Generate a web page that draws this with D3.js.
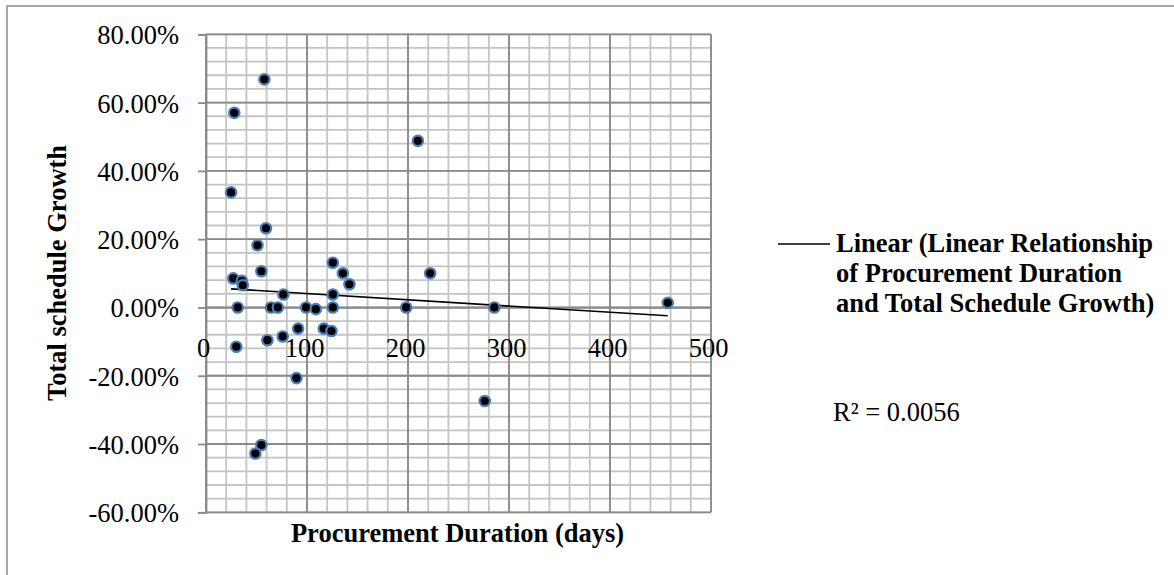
<!DOCTYPE html>
<html>
<head>
<meta charset="utf-8">
<script src="https://cdn.jsdelivr.net/npm/d3@7"></script>
<style>
  body { margin: 0; background: #fff; }
  svg text { font-family: "Liberation Serif", "Times New Roman", serif; }
</style>
</head>
<body>
<svg width="1174" height="575"></svg>
<script>
// procurement duration (days) and total schedule growth (%)
const durations = [57.8, 28, 24.8, 59.4, 51, 54.8, 27, 35.4, 36.4, 76.6, 125.6, 135.5, 142, 125.6,
    209.8, 222, 31.4, 64.4, 71.1, 99.1, 108.7, 125.6, 198.2, 285.5,
    91.2, 116.6, 124.2, 76, 60.8, 30, 89.6, 276, 54.8, 48.9, 457.2];
const growth = [66.8, 57.0, 33.7, 23.2, 18.2, 10.6, 8.5, 7.8, 6.5, 3.8, 13.1, 10.0, 6.8, 3.8,
    48.8, 10.0, 0, 0, 0, 0, -0.5, 0, 0, 0,
    -6.2, -6.2, -6.9, -8.5, -9.6, -11.5, -20.7, -27.4, -40.3, -42.8, 1.35];
const xTicks = [0, 100, 200, 300, 400, 500];
const yTicks = [-60, -40, -20, 0, 20, 40, 60, 80];
// linear trend as shown in the chart
const trendIntercept = 5.89, trendSlope = -0.01824;
const legendLines = ["Linear (Linear Relationship", "of Procurement Duration", "and Total Schedule Growth)"];
const rSquared = "R² = 0.0056";

const data = durations.map((d, i) => ({ x: d, y: growth[i] }));

const svg = d3.select("svg");
const fs = "26.5px";
const serif = '"Liberation Serif", "Times New Roman", serif';

// outer chart border
svg.append("rect")
    .attr("x", 7).attr("y", 6).attr("width", 1200).attr("height", 600)
    .attr("fill", "none").attr("stroke", "#8c8c8c").attr("stroke-width", 1.5);

const x = d3.scaleLinear().domain([0, 500]).range([206, 711]),
    y = d3.scaleLinear().domain([-60, 80]).range([512.3, 34.3]);

const g = svg.append("g");

// minor grid
g.selectAll(".vminor").data(d3.range(0, 501, 20)).join("line")
    .attr("x1", d => x(d)).attr("x2", d => x(d)).attr("y1", y(80)).attr("y2", y(-60))
    .attr("stroke", "#c4c4c4").attr("stroke-width", 1.8);
g.selectAll(".hminor").data(d3.range(-60, 81, 4)).join("line")
    .attr("x1", x(0)).attr("x2", x(500)).attr("y1", d => y(d)).attr("y2", d => y(d))
    .attr("stroke", "#c4c4c4").attr("stroke-width", 1.8);
// major grid
g.selectAll(".vmajor").data(xTicks).join("line")
    .attr("x1", d => x(d)).attr("x2", d => x(d)).attr("y1", y(80)).attr("y2", y(-60))
    .attr("stroke", "#8a8a8a").attr("stroke-width", 1.8);
g.selectAll(".hmajor").data(yTicks).join("line")
    .attr("x1", x(0)).attr("x2", x(500)).attr("y1", d => y(d)).attr("y2", d => y(d))
    .attr("stroke", "#8a8a8a").attr("stroke-width", 1.8);

// y axis
const yAxis = g.append("g")
    .attr("transform", `translate(${x(0)},0)`)
    .call(d3.axisLeft(y).tickValues(yTicks).tickSize(8).tickPadding(19)
        .tickFormat(d => d.toFixed(2) + "%"))
    .attr("font-family", serif).attr("font-size", fs);
yAxis.select(".domain").attr("stroke", "#8a8a8a").attr("stroke-width", 1.8);
yAxis.selectAll(".tick line").attr("stroke", "#8a8a8a").attr("stroke-width", 1.8);
yAxis.selectAll("text").attr("fill", "#000").attr("dy", "0.36em");

// x axis at zero
const xAxis = g.append("g")
    .attr("transform", `translate(0,${y(0)})`)
    .call(d3.axisBottom(x).tickValues(xTicks).tickSize(0).tickPadding(31))
    .attr("font-family", serif).attr("font-size", fs);
xAxis.select(".domain").attr("stroke", "#8a8a8a").attr("stroke-width", 1.8);
xAxis.selectAll("text").attr("fill", "#000").attr("dx", "-3");

// trendline over data range
const [xMin, xMax] = d3.extent(durations);
g.append("line")
    .attr("x1", x(xMin)).attr("y1", y(trendIntercept + trendSlope * xMin))
    .attr("x2", x(xMax)).attr("y2", y(trendIntercept + trendSlope * xMax))
    .attr("stroke", "#000").attr("stroke-width", 1.6);

// points
g.selectAll(".pt").data(data).join("circle")
    .attr("cx", d => x(d.x)).attr("cy", d => y(d.y)).attr("r", 5.2)
    .attr("fill", "#000").attr("stroke", "#4a7ebb").attr("stroke-width", 2.2);

// axis titles
svg.append("text")
    .attr("x", 457.5).attr("y", 541.5).attr("text-anchor", "middle")
    .attr("font-size", fs).attr("font-weight", "bold")
    .text("Procurement Duration (days)");
svg.append("text")
    .attr("transform", "translate(66,273) rotate(-90)").attr("text-anchor", "middle")
    .attr("font-size", fs).attr("font-weight", "bold")
    .text("Total schedule Growth");

// legend
svg.append("line")
    .attr("x1", 778).attr("x2", 830).attr("y1", 244).attr("y2", 244)
    .attr("stroke", "#000").attr("stroke-width", 1.6);
svg.selectAll(".leg").data(legendLines).join("text")
    .attr("x", 836).attr("y", (d, i) => 252 + i * 30)
    .attr("font-size", fs).attr("font-weight", "bold")
    .text(d => d);
svg.append("text")
    .attr("x", 833).attr("y", 421).attr("font-size", fs)
    .text(rSquared);
</script>
</body>
</html>
